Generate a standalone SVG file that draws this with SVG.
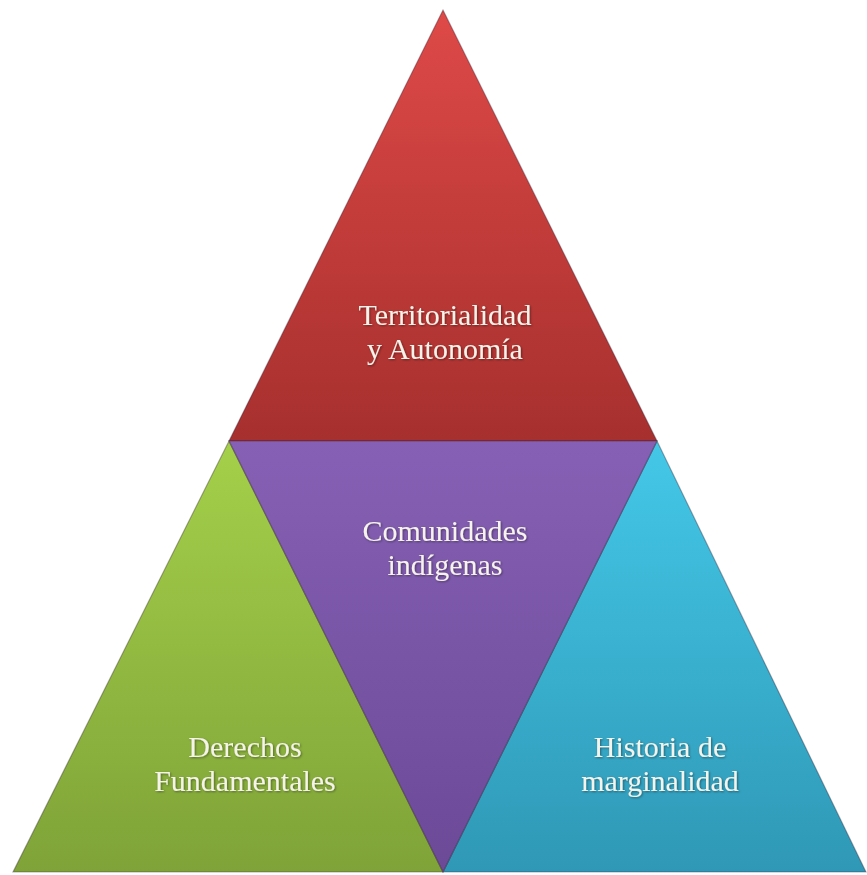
<svg xmlns="http://www.w3.org/2000/svg" width="867" height="875" viewBox="0 0 867 875">
  <defs>
    <linearGradient id="gRed" x1="0" y1="0" x2="0" y2="1">
      <stop offset="0" stop-color="#de4a48"/>
      <stop offset="0.5" stop-color="#c23c3a"/>
      <stop offset="1" stop-color="#a6302e"/>
    </linearGradient>
    <linearGradient id="gGreen" x1="0" y1="0" x2="0" y2="1">
      <stop offset="0" stop-color="#a4d04a"/>
      <stop offset="1" stop-color="#7fa338"/>
    </linearGradient>
    <linearGradient id="gPurple" x1="0" y1="0" x2="0" y2="1">
      <stop offset="0" stop-color="#8660b4"/>
      <stop offset="1" stop-color="#6c4a98"/>
    </linearGradient>
    <linearGradient id="gBlue" x1="0" y1="0" x2="0" y2="1">
      <stop offset="0" stop-color="#44c8e8"/>
      <stop offset="1" stop-color="#2f98b6"/>
    </linearGradient>
    <filter id="txtShadow" x="-10%" y="-20%" width="120%" height="140%">
      <feDropShadow dx="1" dy="1" stdDeviation="0.8" flood-color="#000" flood-opacity="0.4"/>
    </filter>
  </defs>
  <style>
    .tri { stroke: rgba(40,20,40,0.35); stroke-width: 1.2; stroke-linejoin: miter; }
    .lbl { font-family: "Liberation Serif", "Times New Roman", serif; font-size: 30px; fill: #f6f3ea; text-anchor: middle; filter: url(#txtShadow); }
  </style>

  <!-- top segment -->
  <g id="territorialidad">
    <polygon class="tri" points="443,10 657,441 229,441" fill="url(#gRed)"/>
    <text class="lbl" x="445" y="325">Territorialidad</text>
    <text class="lbl" x="445" y="359">y Autonomía</text>
  </g>

  <!-- lower left segment -->
  <g id="derechos">
    <polygon class="tri" points="229,441 443,872 13,872" fill="url(#gGreen)"/>
    <text class="lbl" x="245" y="757">Derechos</text>
    <text class="lbl" x="245" y="791">Fundamentales</text>
  </g>

  <!-- lower right segment -->
  <g id="historia">
    <polygon class="tri" points="657,441 866,872 443,872" fill="url(#gBlue)"/>
    <text class="lbl" x="660" y="757">Historia de</text>
    <text class="lbl" x="660" y="791">marginalidad</text>
  </g>

  <!-- central inverted segment -->
  <g id="comunidades">
    <polygon class="tri" points="229,441 657,441 443,872" fill="url(#gPurple)"/>
    <text class="lbl" x="445" y="541">Comunidades</text>
    <text class="lbl" x="445" y="575">indígenas</text>
  </g>

  <g id="connectors"/>
</svg>
